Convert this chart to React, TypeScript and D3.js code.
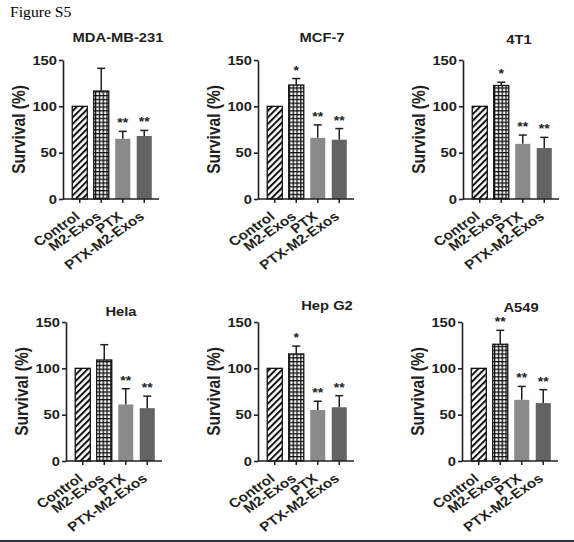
import React from "react";
import * as d3 from "d3";

// treatment groups (x categories), one panel per cell line
const groups = ["Control", "M2-Exos", "PTX", "PTX-M2-Exos"];
const cellLines = ["MDA-MB-231", "MCF-7", "4T1", "Hela", "Hep G2", "A549"];
const yTicks = [0, 50, 100, 150];

// mean survival (%) per cell line, in group order
const survivalMean = [
  [100, 116.5, 65, 68],
  [100, 123, 66, 64],
  [100, 122.5, 59.5, 55],
  [100, 109, 61, 57],
  [100, 115.5, 55, 58],
  [100, 126, 66, 62.5],
];
// upper error bar length (SD)
const survivalErr = [
  [0, 24.5, 8, 6],
  [0, 7, 14, 12],
  [0, 3.5, 9.5, 11.5],
  [0, 16.5, 17, 13],
  [0, 8.5, 9.5, 12.5],
  [0, 15, 14.5, 14.5],
];
// significance marks above the bars
const stars = [
  ["", "", "**", "**"],
  ["", "*", "**", "**"],
  ["", "*", "**", "**"],
  ["", "", "**", "**"],
  ["", "*", "**", "**"],
  ["", "**", "**", "**"],
];

// panel placement: y-axis x position, baseline of the value axis, title offsets
const layout = [
  { ax: 63, y0: 199, tx: 55, ty: 42 },
  { ax: 258, y0: 199, tx: 64, ty: 42 },
  { ax: 463, y0: 199, tx: 56, ty: 44 },
  { ax: 66, y0: 461, tx: 55, ty: 316 },
  { ax: 258, y0: 461, tx: 69, ty: 310 },
  { ax: 462, y0: 461, tx: 59, ty: 312 },
];

const W = 574;
const H = 542;
const ink = "#231f20";
const sans = "'Liberation Sans', Arial, sans-serif";
// the source figure is slightly stretched sideways; text follows that
const SX = 1.17;

const App = () => {
  const svgRef = React.useRef(null);

  React.useEffect(() => {
    const svg = d3.select(svgRef.current);
    svg.selectAll("*").remove();

    svg.append("rect").attr("width", W).attr("height", H).attr("fill", "#fff");

    // fill patterns for the first two bars
    const defs = svg.append("defs");
    const hatch = defs.append("pattern")
      .attr("id", "hatch")
      .attr("patternUnits", "userSpaceOnUse")
      .attr("width", 4.6)
      .attr("height", 4.6)
      .attr("patternTransform", "rotate(45)");
    hatch.append("rect").attr("width", 4.6).attr("height", 4.6).attr("fill", "#fff");
    hatch.append("line")
      .attr("x1", 1).attr("x2", 1).attr("y1", 0).attr("y2", 4.6)
      .attr("stroke", "#111").attr("stroke-width", 2);

    const grid = defs.append("pattern")
      .attr("id", "grid")
      .attr("patternUnits", "userSpaceOnUse")
      .attr("width", 3.8)
      .attr("height", 3.8);
    grid.append("rect").attr("width", 3.8).attr("height", 3.8).attr("fill", "#111");
    grid.append("rect").attr("x", 1.3).attr("y", 1.3).attr("width", 2.5).attr("height", 2.5).attr("fill", "#fff");

    const fills = ["url(#hatch)", "url(#grid)", "#8a8a8a", "#636363"];
    const strokes = ["#111", "#111", "none", "none"];

    svg.append("text")
      .attr("transform", `translate(10,17) scale(1.12,1)`)
      .attr("font-family", "'Liberation Serif', 'Times New Roman', serif")
      .attr("font-size", 14)
      .attr("fill", "#000")
      .text("Figure S5");

    cellLines.forEach((name, p) => {
      const { ax, y0, tx, ty } = layout[p];
      const g = svg.append("g");

      const y = d3.scaleLinear().domain([0, 150]).range([y0, y0 - 139]);
      const x = d3.scaleBand()
        .domain(groups)
        .range([ax + 6, ax + 92])
        .paddingInner(0.3)
        .paddingOuter(0.15);
      const cx = d => x(d) + x.bandwidth() / 2;

      const rows = groups.map((grp, i) => ({
        grp, i,
        mean: survivalMean[p][i],
        err: survivalErr[p][i],
        star: stars[p][i],
      }));

      // bars
      g.selectAll("rect.bar")
        .data(rows)
        .join("rect")
        .attr("class", "bar")
        .attr("x", d => x(d.grp))
        .attr("width", x.bandwidth())
        .attr("y", d => y(d.mean))
        .attr("height", d => y(0) - y(d.mean))
        .attr("fill", d => fills[d.i])
        .attr("stroke", d => strokes[d.i])
        .attr("stroke-width", 1.3);

      // upper error bars
      const eb = g.selectAll("g.err")
        .data(rows.filter(d => d.err > 0))
        .join("g")
        .attr("class", "err")
        .attr("stroke", ink)
        .attr("stroke-width", 1.5);
      eb.append("line")
        .attr("x1", d => cx(d.grp))
        .attr("x2", d => cx(d.grp))
        .attr("y1", d => y(d.mean))
        .attr("y2", d => y(d.mean + d.err));
      eb.append("line")
        .attr("x1", d => cx(d.grp) - 4)
        .attr("x2", d => cx(d.grp) + 4)
        .attr("y1", d => y(d.mean + d.err))
        .attr("y2", d => y(d.mean + d.err));

      // significance stars
      g.selectAll("text.star")
        .data(rows.filter(d => d.star))
        .join("text")
        .attr("class", "star")
        .attr("transform", d => `translate(${cx(d.grp)},${y(d.mean + d.err) - 4}) scale(${SX},1)`)
        .attr("text-anchor", "middle")
        .attr("font-family", sans)
        .attr("font-size", 12)
        .attr("font-weight", "bold")
        .attr("fill", "#222")
        .text(d => d.star);

      // y axis (labels drawn separately so they can be stretched)
      const yAxis = g.append("g")
        .attr("transform", `translate(${ax},0)`)
        .call(d3.axisLeft(y).tickValues(yTicks).tickSize(4).tickFormat(() => "").tickSizeOuter(0));
      yAxis.select(".domain").attr("stroke", ink).attr("stroke-width", 1.6);
      yAxis.selectAll("line").attr("stroke", ink).attr("stroke-width", 1.6);
      g.selectAll("text.yt")
        .data(yTicks)
        .join("text")
        .attr("class", "yt")
        .attr("transform", d => `translate(${ax - 6},${y(d)}) scale(${SX},1)`)
        .attr("dy", "0.36em")
        .attr("text-anchor", "end")
        .attr("font-family", sans)
        .attr("font-size", 12.6)
        .attr("font-weight", "bold")
        .attr("fill", ink)
        .text(d => d);

      // x axis line + ticks
      g.append("line")
        .attr("x1", ax).attr("x2", ax + 96)
        .attr("y1", y0).attr("y2", y0)
        .attr("stroke", ink).attr("stroke-width", 1.6);
      g.selectAll("line.xt")
        .data(groups)
        .join("line")
        .attr("class", "xt")
        .attr("x1", cx)
        .attr("x2", cx)
        .attr("y1", y0)
        .attr("y2", y0 + 4)
        .attr("stroke", ink).attr("stroke-width", 1.5);

      g.selectAll("text.xl")
        .data(groups)
        .join("text")
        .attr("class", "xl")
        .attr("transform", d => `translate(${cx(d) + 1},${y0 + 19}) scale(${SX},1) rotate(-39)`)
        .attr("text-anchor", "end")
        .attr("font-family", sans)
        .attr("font-size", 13)
        .attr("font-weight", "bold")
        .attr("fill", ink)
        .text(d => d);

      // y label
      g.append("text")
        .attr("transform", `translate(${ax - 38},${y0 - 69.5}) scale(${SX},1) rotate(-90)`)
        .attr("text-anchor", "middle")
        .attr("font-family", sans)
        .attr("font-size", 15.5)
        .attr("font-weight", "bold")
        .attr("fill", ink)
        .text("Survival (%)");

      // title
      g.append("text")
        .attr("transform", `translate(${ax + tx},${ty}) scale(${SX},1)`)
        .attr("text-anchor", "middle")
        .attr("font-family", sans)
        .attr("font-size", 12.6)
        .attr("font-weight", "bold")
        .attr("fill", ink)
        .text(name);
    });

    // dark strip along the bottom edge
    svg.append("rect")
      .attr("x", 0).attr("y", H - 2)
      .attr("width", W).attr("height", 2)
      .attr("fill", "#2b3947");
  }, []);

  return (
    <svg
      ref={svgRef}
      width={W}
      height={H}
      style={{ position: "absolute", left: 0, top: 0, display: "block" }}
    />
  );
};

export default App;
